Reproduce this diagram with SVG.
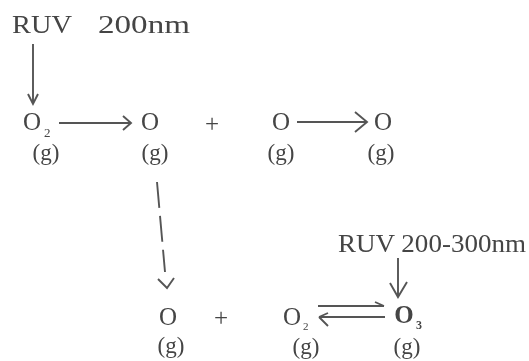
<svg xmlns="http://www.w3.org/2000/svg" width="529" height="361" viewBox="0 0 529 361">
<defs><filter id="b" x="-20%" y="-20%" width="140%" height="140%"><feGaussianBlur stdDeviation="0.6"/></filter></defs>
<style>
g{filter:url(#b)}
text{font-family:"Liberation Serif","Times New Roman",serif;fill:#444;font-size:25px}
.s{font-size:13px}
.g{font-size:23px;text-anchor:middle}
.lab{font-size:25px}
.c{text-anchor:middle}
.l{fill:none;stroke:#555;stroke-width:1.9}
</style>
<rect width="529" height="361" fill="#fff"/>
<g id="connectors">
<path class="l" d="M33 44V104M28 94L33 104L38 94"/>
<path class="l" d="M59 123H130M123 116L131 123L123 130"/>
<path class="l" d="M297 122H367M355 112L367 122L355 132"/>
<path class="l" stroke-dasharray="26 8" d="M157 182L165 272"/>
<path class="l" stroke-width="2.5" d="M158 279L167 288L174 278"/>
<path class="l" d="M318 306H384M375 302L384 306"/>
<path class="l" d="M319 317H385M319 317L328 313M319 317L328 326"/>
<path class="l" d="M398 258V297M390 283L398 297L407 282"/>
</g>
<g id="label-ruv-200"><text class="lab" x="12" y="33" textLength="60" lengthAdjust="spacingAndGlyphs">RUV</text><text class="lab" x="98" y="33" textLength="92" lengthAdjust="spacingAndGlyphs">200nm</text></g>
<g id="node-o2-a"><text class="c" x="32" y="130">O</text><text class="s" x="44" y="137">2</text><text class="g" x="46" y="160">(g)</text></g>
<g id="node-o-a"><text class="c" x="150" y="130">O</text><text class="g" x="155" y="160">(g)</text></g>
<g id="plus-a"><text class="c" x="212" y="132">+</text></g>
<g id="node-o-b"><text class="c" x="281" y="130">O</text><text class="g" x="281" y="160">(g)</text></g>
<g id="node-o-c"><text class="c" x="383" y="130">O</text><text class="g" x="381" y="160">(g)</text></g>
<g id="node-o-d"><text class="c" x="168" y="325">O</text><text class="g" x="171" y="353">(g)</text></g>
<g id="plus-b"><text class="c" x="221" y="326">+</text></g>
<g id="label-ruv-200-300"><text class="lab" x="338" y="252" textLength="188" lengthAdjust="spacingAndGlyphs">RUV 200-300nm</text></g>
<g id="node-o2-b"><text class="c" x="292" y="325">O</text><text class="s" x="303" y="330" style="font-size:11px">2</text><text class="g" x="306" y="354">(g)</text></g>
<g id="node-o3"><text class="c" x="404" y="323" style="font-weight:bold">O</text><text class="s" x="416" y="329" style="font-weight:bold;font-size:12px">3</text><text class="g" x="407" y="354">(g)</text></g>
</svg>
